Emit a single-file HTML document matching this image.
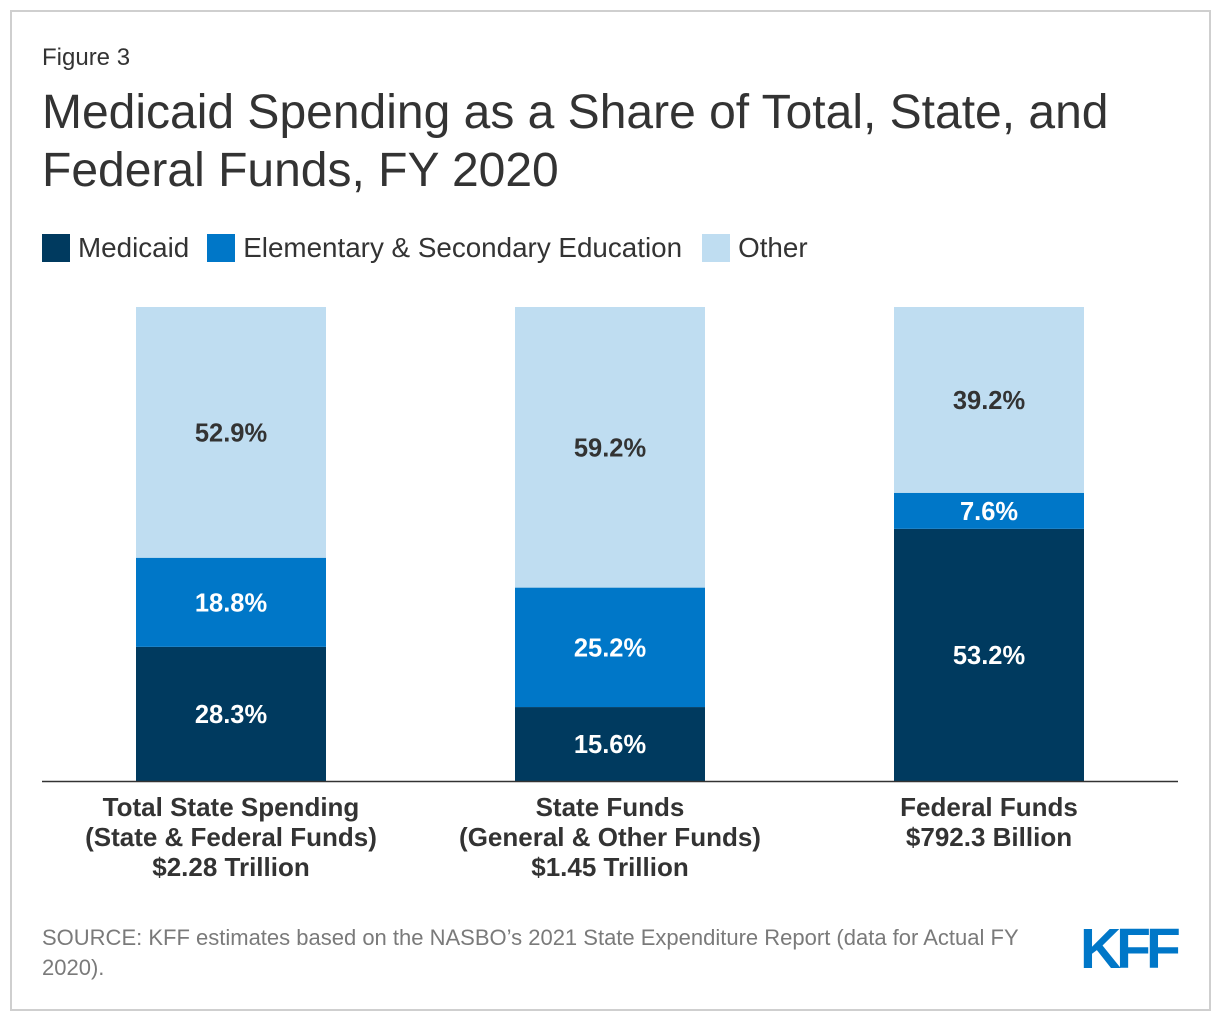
<!DOCTYPE html>
<html><head><meta charset="utf-8"><style>
body{margin:0;background:#fff;font-family:"Liberation Sans",Arial,sans-serif;}
#frame{position:absolute;left:10px;top:10px;width:1197px;height:997px;border:2px solid #cfcfcf;}
.t{position:absolute;color:#333;}
</style></head><body>
<div id="frame"></div>
<div class="t" style="left:42px;top:44px;font-size:24px;">Figure 3</div>
<div class="t" style="left:42px;top:84px;font-size:48px;line-height:58px;">Medicaid Spending as a Share of Total, State, and<br>Federal Funds, FY 2020</div>
<div class="t" style="left:42px;top:232px;font-size:27.8px;display:flex;align-items:center;">
<span style="display:flex;align-items:center;"><span style="width:28px;height:28px;background:#003a5f;display:inline-block;margin-right:8px"></span>Medicaid</span>
<span style="display:flex;align-items:center;margin-left:18px"><span style="width:28px;height:28px;background:#0077c8;display:inline-block;margin-right:8px"></span>Elementary &amp; Secondary Education</span>
<span style="display:flex;align-items:center;margin-left:20px"><span style="width:28px;height:28px;background:#bfddf1;display:inline-block;margin-right:8px"></span>Other</span>
</div>
<svg id="chart" width="1220" height="1020" style="position:absolute;left:0;top:0"></svg>
<div class="t" style="left:42px;top:923px;font-size:22px;line-height:30px;color:#7a7a7a;width:1000px">SOURCE: KFF estimates based on the NASBO’s 2021 State Expenditure Report (data for Actual FY 2020).</div>
<div style="position:absolute;left:1080px;top:916px;font-size:57px;font-weight:bold;color:#0077c8;letter-spacing:-5px;">KFF</div>
<script>
const categories=[["Total State Spending","(State & Federal Funds)","$2.28 Trillion"],["State Funds","(General & Other Funds)","$1.45 Trillion"],["Federal Funds","$792.3 Billion"]];
const medicaid=[28.3,15.6,53.2];
const education=[18.8,25.2,7.6];
const other=[52.9,59.2,39.2];
const NS="http://www.w3.org/2000/svg";
const svg=document.getElementById('chart');
const base=781,top0=307,H=base-top0;
const y=v=>v/100*H;
const xc=i=>231+i*379, bw=190;
function mk(t,a){const e=document.createElementNS(NS,t);for(const k in a)e.setAttribute(k,a[k]);svg.appendChild(e);return e;}
const series=[[medicaid,"#003a5f","#fff","medicaid"],[education,"#0077c8","#fff","education"],[other,"#bfddf1","#333","other"]];
categories.forEach((c,i)=>{
  const total=medicaid[i]+education[i]+other[i];
  let acc=0;
  series.forEach(s=>{
    const v=s[0][i]/total*100;
    const y1=base-y(acc+v), h=y(v);
    const r=mk('rect',{x:xc(i)-bw/2,y:y1,width:bw,height:h,fill:s[1]});
    
    
    const t=mk('text',{x:xc(i),y:y1+h/2+9,'text-anchor':'middle','font-size':25.5,'font-weight':'bold',fill:s[2],'font-family':'Liberation Sans, sans-serif'});
    t.textContent=s[0][i].toFixed(1)+'%';
    
    
    acc+=v;
  });
  c.forEach((line,j)=>{
    const t=mk('text',{x:xc(i),y:816+j*30,'text-anchor':'middle','font-size':26,'font-weight':'bold',fill:'#333','font-family':'Liberation Sans, sans-serif'});
    t.textContent=line;
    
    
  });
});
const ax=mk('line',{x1:42,x2:1178,y1:base+0.5,y2:base+0.5,stroke:'#333','stroke-width':1.5});


</script>
</body></html>
